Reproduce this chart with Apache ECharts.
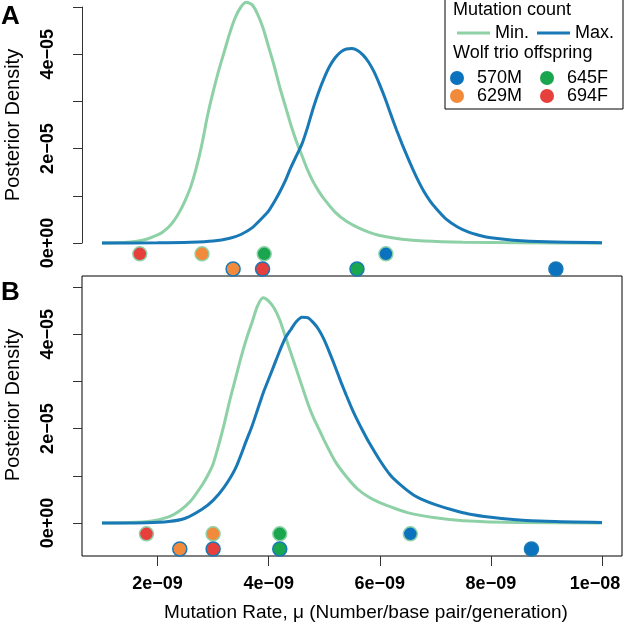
<!DOCTYPE html>
<html><head><meta charset="utf-8">
<script src="https://cdn.jsdelivr.net/npm/echarts@6/dist/echarts.min.js"></script>
<style>html,body{margin:0;padding:0;background:#fff}#c{width:624px;height:630px}</style>
</head><body><div id="c"></div>
<script>
// ---- data (rates in units of 1e-9, densities in units of 1e-5) ----
const RATE_UNIT = 1e-9, DENS_UNIT = 1e-5;
const offspring = ['570M', '629M', '645F', '694F'];

// Panel A posterior curves
const curveA_minRate = [1.0, 1.4, 1.6, 1.8, 2.0, 2.1, 2.2, 2.3, 2.4, 2.5, 2.6, 2.7, 2.8, 2.9, 3.0, 3.1, 3.2, 3.3, 3.4, 3.5, 3.6, 3.7, 3.8, 3.9, 4.0, 4.1, 4.2, 4.3, 4.4, 4.5, 4.6, 4.7, 4.8, 4.9, 5.0, 5.2, 5.4, 5.6, 5.8, 6.0, 6.4, 6.8, 7.5, 8.5, 10.0];
const curveA_minDens = [0, 0.01, 0.03, 0.08, 0.17, 0.24, 0.34, 0.48, 0.67, 0.91, 1.2, 1.6, 2.1, 2.7, 3.2, 3.65, 4.05, 4.45, 4.78, 5.0, 5.1, 5.05, 4.85, 4.55, 4.15, 3.75, 3.3, 2.9, 2.5, 2.15, 1.85, 1.55, 1.3, 1.1, 0.93, 0.65, 0.46, 0.33, 0.23, 0.16, 0.08, 0.04, 0.015, 0.004, 0];
const curveA_maxRate = [1.0, 2.0, 2.6, 3.0, 3.3, 3.5, 3.7, 3.9, 4.0, 4.1, 4.2, 4.3, 4.4, 4.5, 4.6, 4.7, 4.8, 4.9, 5.0, 5.1, 5.2, 5.3, 5.4, 5.5, 5.6, 5.7, 5.8, 5.9, 6.0, 6.1, 6.2, 6.3, 6.4, 6.5, 6.6, 6.7, 6.8, 6.9, 7.0, 7.2, 7.4, 7.6, 7.8, 8.0, 8.4, 9.0, 10.0];
const curveA_maxDens = [0, 0.003, 0.015, 0.04, 0.1, 0.18, 0.32, 0.55, 0.68, 0.87, 1.08, 1.32, 1.6, 1.85, 2.1, 2.45, 2.85, 3.2, 3.5, 3.75, 3.93, 4.05, 4.11, 4.12, 4.08, 3.98, 3.83, 3.62, 3.35, 3.05, 2.72, 2.4, 2.1, 1.82, 1.55, 1.3, 1.08, 0.9, 0.75, 0.5, 0.34, 0.23, 0.16, 0.11, 0.06, 0.025, 0.007];

// Panel B posterior curves
const curveB_minRate = [1.0, 1.5, 1.9, 2.2, 2.4, 2.6, 2.8, 2.9, 3.0, 3.1, 3.2, 3.3, 3.4, 3.5, 3.6, 3.7, 3.8, 3.9, 4.0, 4.1, 4.2, 4.3, 4.4, 4.5, 4.6, 4.7, 4.8, 4.9, 5.0, 5.2, 5.4, 5.6, 5.8, 6.0, 6.2, 6.5, 7.0, 7.5, 8.5, 10.0];
const curveB_minDens = [0, 0.01, 0.045, 0.13, 0.26, 0.47, 0.8, 1.0, 1.25, 1.65, 2.1, 2.6, 3.05, 3.5, 3.9, 4.25, 4.6, 4.77, 4.7, 4.55, 4.3, 3.95, 3.6, 3.25, 2.9, 2.55, 2.25, 2.0, 1.75, 1.3, 0.98, 0.72, 0.55, 0.43, 0.34, 0.22, 0.11, 0.05, 0.01, 0];
const curveB_maxRate = [1.0, 1.8, 2.2, 2.5, 2.8, 3.0, 3.2, 3.4, 3.6, 3.7, 3.8, 3.9, 4.0, 4.1, 4.2, 4.3, 4.4, 4.5, 4.6, 4.7, 4.8, 4.9, 5.0, 5.1, 5.2, 5.3, 5.4, 5.5, 5.6, 5.7, 5.8, 6.0, 6.2, 6.4, 6.6, 6.8, 7.0, 7.3, 7.6, 8.0, 8.4, 9.0, 10.0];
const curveB_maxDens = [0, 0.005, 0.03, 0.1, 0.29, 0.48, 0.76, 1.15, 1.75, 2.05, 2.4, 2.75, 3.05, 3.35, 3.65, 3.92, 4.1, 4.27, 4.36, 4.35, 4.25, 4.1, 3.88, 3.6, 3.3, 2.99, 2.7, 2.42, 2.17, 1.94, 1.72, 1.33, 1.0, 0.78, 0.6, 0.48, 0.39, 0.28, 0.19, 0.12, 0.075, 0.035, 0.01];

// Per-offspring point estimates (order follows `offspring`)
const ratesA_min = [6.11, 2.80, 3.92, 1.68];
const ratesA_max = [9.17, 3.36, 5.59, 3.89];
const ratesB_min = [6.55, 3.00, 4.20, 1.80];
const ratesB_max = [8.73, 2.40, 4.20, 3.00];
const dotRowDens = [-0.23, -0.55]; // row for Min. / Max. points

// axis ticks
const xTicks = [2, 4, 6, 8, 10];
const xTickLabels = ['2e\u221209', '4e\u221209', '6e\u221209', '8e\u221209', '1e\u221208'];
const yTicks = [0, 2, 4];
const yTickLabels = ['0e+00', '2e\u221205', '4e\u221205'];

// ---- styles ----
const FONT = "'Liberation Sans', Arial, Helvetica, sans-serif";
const MIN_COLOR = '#8ed1a6';
const MAX_COLOR = '#1879b6';
const offColors = ['#0b73bd', '#f18a3b', '#1aa64f', '#e63f3c'];

function pairs(xs, ys) { return xs.map((x, i) => [x * RATE_UNIT, ys[i] * DENS_UNIT]); }

const xRange = { min: 0.64 * RATE_UNIT, max: 10.36 * RATE_UNIT };
const yRange = { min: 0, max: 5 * DENS_UNIT, interval: 1 * DENS_UNIT };

function yAxisFor(grid, showLine) {
  return {
    type: 'value', gridIndex: grid, ...yRange,
    axisLine: { show: showLine, lineStyle: { color: '#333', width: 1 } },
    axisTick: { show: true, length: 9, lineStyle: { color: '#333' } },
    splitLine: { show: false },
    axisLabel: {
      rotate: 90, margin: 25, color: '#000', fontFamily: FONT, fontSize: 18, fontWeight: 'bold',
      customValues: yTicks.map(v => v * DENS_UNIT),
      formatter: v => { const i = yTicks.findIndex(t => Math.abs(t * DENS_UNIT - v) < 1e-12); return i >= 0 ? yTickLabels[i] : ''; }
    },
    name: 'Posterior Density', nameLocation: 'middle', nameRotate: 90, nameGap: 59,
    nameTextStyle: { color: '#000', fontFamily: FONT, fontSize: 20 }
  };
}

const series = [];
[[curveA_minRate, curveA_minDens, curveA_maxRate, curveA_maxDens, 0],
 [curveB_minRate, curveB_minDens, curveB_maxRate, curveB_maxDens, 1]].forEach(([mr, md, xr, xd, g]) => {
  series.push({ type: 'line', name: 'Min.', xAxisIndex: g, yAxisIndex: g, data: pairs(mr, md), smooth: 0.25,
    showSymbol: false, clip: false, lineStyle: { color: MIN_COLOR, width: 3 }, itemStyle: { color: MIN_COLOR }, z: 2 });
  series.push({ type: 'line', name: 'Max.', xAxisIndex: g, yAxisIndex: g, data: pairs(xr, xd), smooth: 0.25,
    showSymbol: false, clip: false, lineStyle: { color: MAX_COLOR, width: 3 }, itemStyle: { color: MAX_COLOR }, z: 3 });
});
[[ratesA_min, ratesA_max, 0], [ratesB_min, ratesB_max, 1]].forEach(([mins, maxs, g]) => {
  offspring.forEach((name, i) => {
    series.push({
      type: 'scatter', name, xAxisIndex: g, yAxisIndex: g, clip: false, symbolSize: 14, z: 4,
      itemStyle: { color: offColors[i], borderWidth: 1.5, opacity: 1 },
      data: [
        { value: [mins[i] * RATE_UNIT, dotRowDens[0] * DENS_UNIT], itemStyle: { borderColor: MIN_COLOR } },
        { value: [maxs[i] * RATE_UNIT, dotRowDens[1] * DENS_UNIT], itemStyle: { borderColor: MAX_COLOR } }
      ]
    });
  });
});

const legText = { color: '#000', fontFamily: FONT, fontSize: 18 };
const gridBase = { outerBoundsMode: 'none', containLabel: false };
const tickFont = { color: '#000', fontFamily: FONT, fontSize: 18, fontWeight: 'bold' };
const option = {
  animation: false,
  backgroundColor: '#fff',
  title: [
    { text: 'A', left: 1, top: 4, textStyle: { fontFamily: FONT, fontSize: 26, fontWeight: 'bold', color: '#000' }, padding: 0 },
    { text: 'B', left: 1, top: 280, textStyle: { fontFamily: FONT, fontSize: 26, fontWeight: 'bold', color: '#000' }, padding: 0 },
    { text: 'Mutation count', left: 453, top: 1, textStyle: { ...legText, fontWeight: 'normal' }, padding: 0 },
    { text: 'Wolf trio offspring', left: 453, top: 44, textStyle: { ...legText, fontWeight: 'normal' }, padding: 0 }
  ],
  legend: [
    { data: ['Min.', 'Max.'], left: 457, top: 24, padding: 0, icon: 'rect', itemWidth: 33, itemHeight: 3, itemGap: 8,
      textStyle: legText, selectedMode: false },
    { data: ['570M', '645F'], left: 450, top: 69, padding: 0, icon: 'circle', itemWidth: 14, itemHeight: 14, itemGap: 18,
      itemStyle: { borderWidth: 0 }, textStyle: { ...legText, padding: [0, 0, 0, 8] }, selectedMode: false },
    { data: ['629M', '694F'], left: 450, top: 87, padding: 0, icon: 'circle', itemWidth: 14, itemHeight: 14, itemGap: 18,
      itemStyle: { borderWidth: 0 }, textStyle: { ...legText, padding: [0, 0, 0, 8] }, selectedMode: false }
  ],
  graphic: [
    { type: 'rect', shape: { x: 445, y: -2, width: 178, height: 111 }, style: { fill: 'none', stroke: '#000', lineWidth: 1 }, silent: true, z: 10 }
  ],
  grid: [
    { ...gridBase, left: 82, top: 7, width: 540, height: 236 },
    { ...gridBase, left: 82, top: 287, width: 540, height: 236 },
    { ...gridBase, left: 82, top: 276, width: 540, height: 280, show: true, borderColor: '#000', borderWidth: 1, backgroundColor: 'transparent' }
  ],
  xAxis: [
    { type: 'value', gridIndex: 0, ...xRange, show: false },
    { type: 'value', gridIndex: 1, ...xRange, show: false },
    { type: 'value', gridIndex: 2, ...xRange,
      axisLine: { show: false },
      axisTick: { show: true, length: 10, lineStyle: { color: '#333' }, customValues: xTicks.map(v => v * RATE_UNIT) },
      splitLine: { show: false },
      axisLabel: { margin: 19, ...tickFont,
        customValues: xTicks.map(v => v * RATE_UNIT),
        rich: { last: { ...tickFont, padding: [0, 14, 0, 0] } },
        formatter: v => {
          const i = xTicks.findIndex(t => Math.abs(t * RATE_UNIT - v) < 1e-15);
          if (i < 0) return '';
          return i === xTicks.length - 1 ? '{last|' + xTickLabels[i] + '}' : xTickLabels[i];
        } },
      name: 'Mutation Rate, \u03bc (Number/base pair/generation)', nameLocation: 'middle', nameGap: 47,
      nameTextStyle: { color: '#000', fontFamily: FONT, fontSize: 19, padding: [0, 0, 0, 28] } }
  ],
  yAxis: [
    yAxisFor(0, true),
    yAxisFor(1, false),
    { type: 'value', gridIndex: 2, min: 0, max: 1, show: false }
  ],
  series
};
const chart = echarts.init(document.getElementById('c'), null, { renderer: 'canvas' });
chart.setOption(option);
</script></body></html>
